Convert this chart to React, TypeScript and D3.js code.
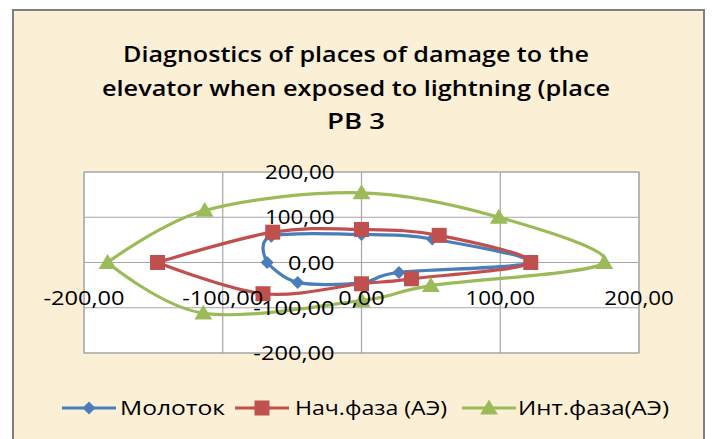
import React, { useEffect, useRef } from "react";
import * as d3 from "d3";

// values (x, y pairs, path starts and ends at the left-most point)
const molotokX = [-68, -65, 0, 51, 122, 27, 0, -46, -68];
const molotokY = [0, 58, 62, 52, 0, -22, -45, -44, 0];
const nachX = [-147, -64, 0, 56, 122, 36, 0, -71, -147];
const nachY = [0, 67, 73, 60, 0, -36, -47, -69, 0];
const intX = [-183, -113, 0, 99, 175, 50, 0, -114, -183];
const intY = [0, 115, 154, 100, 0, -51, -84, -112, 0];

const seriesNames = ["Молоток", "Нач.фаза (АЭ)", "Инт.фаза(АЭ)"];
const xTicks = [-200, -100, 0, 100, 200];
const yTicks = [-200, -100, 0, 100, 200];
const titleLines = [
  "Diagnostics of places of damage to the",
  "elevator when exposed to lightning (place",
  "PB 3",
];

const W = 712;
const H = 439;
const fmt = (v: number) => d3.format(".2f")(v).replace(".", ",").replace("\u2212", "-");

function App() {
  const ref = useRef<SVGSVGElement>(null);

  useEffect(() => {
    if (!ref.current) return;
    const svg = d3.select(ref.current);
    svg.selectAll("*").remove();

    // chart frame
    svg.append("rect").attr("width", W).attr("height", H).attr("fill", "#ffffff");
    svg.append("rect")
      .attr("x", 13).attr("y", 10)
      .attr("width", 691).attr("height", H)
      .attr("fill", "#fbefd6")
      .attr("stroke", "#7f7f7f")
      .attr("stroke-width", 2);

    // title
    const titleWidths = [466, 508, 58];
    const titleY = [62, 96, 129];
    titleLines.forEach((t, i) => {
      svg.append("text")
        .attr("x", 356)
        .attr("y", titleY[i])
        .attr("text-anchor", "middle")
        .attr("font-family", "'Open Sans', sans-serif")
        .attr("font-weight", 600)
        .attr("font-size", 22)
        .attr("textLength", titleWidths[i])
        .attr("lengthAdjust", "spacingAndGlyphs")
        .attr("fill", "#000")
        .text(t);
    });

    // scales
    const x = d3.scaleLinear().domain([-200, 200]).range([84, 639]);
    const y = d3.scaleLinear().domain([-200, 200]).range([353, 172]);

    // plot area
    svg.append("rect")
      .attr("x", x(-200)).attr("y", y(200))
      .attr("width", x(200) - x(-200)).attr("height", y(-200) - y(200))
      .attr("fill", "#ffffff")
      .attr("stroke", "#a6a6a6");

    // grid
    const grid = svg.append("g").attr("stroke", "#a6a6a6").attr("stroke-width", 1.2);
    xTicks.forEach(v => {
      grid.append("line").attr("x1", x(v)).attr("x2", x(v)).attr("y1", y(-200)).attr("y2", y(200));
    });
    yTicks.forEach(v => {
      grid.append("line").attr("y1", y(v)).attr("y2", y(v)).attr("x1", x(-200)).attr("x2", x(200));
    });

    // series
    const colors = ["#4a7ebb", "#c0504d", "#9bbb59"];
    const allX = [molotokX, nachX, intX];
    const allY = [molotokY, nachY, intY];
    const line = d3.line<[number, number]>()
      .x(d => x(d[0]))
      .y(d => y(d[1]))
      .curve(d3.curveCardinal.tension(0));

    const diamond = (s: number) => `M0,${-s}L${s},0L0,${s}L${-s},0Z`;
    const square = (s: number) => `M${-s},${-s}H${s}V${s}H${-s}Z`;
    const triangle = (s: number) => `M0,${-s}L${s * 1.05},${s * 0.75}L${-s * 1.05},${s * 0.75}Z`;
    const markers = [() => diamond(6.5), () => square(7.5), () => triangle(8.5)];

    allX.forEach((xs, i) => {
      const pts: [number, number][] = xs.map((v, j) => [v, allY[i][j]]);
      const g = svg.append("g");
      g.append("path")
        .attr("d", line(pts))
        .attr("fill", "none")
        .attr("stroke", colors[i])
        .attr("stroke-width", 3.2)
        .attr("stroke-linejoin", "round");
      g.selectAll("path.m")
        .data(pts.slice(0, -1))
        .enter()
        .append("path")
        .attr("class", "m")
        .attr("transform", d => `translate(${x(d[0])},${y(d[1])})`)
        .attr("d", markers[i]())
        .attr("fill", colors[i]);
    });

    // axis labels (axes cross at 0)
    const lab = svg.append("g")
      .attr("font-family", "'Open Sans', sans-serif")
      .attr("font-size", 20)
      .attr("fill", "#000");
    yTicks.forEach(v => {
      lab.append("text")
        .attr("x", x(0) - 27)
        .attr("y", y(v))
        .attr("dy", "0.35em")
        .attr("text-anchor", "end")
        .attr("textLength", fmt(v).length * 11.6)
        .attr("lengthAdjust", "spacingAndGlyphs")
        .text(fmt(v));
    });
    xTicks.forEach(v => {
      lab.append("text")
        .attr("x", x(v))
        .attr("y", 305)
        .attr("text-anchor", "middle")
        .attr("textLength", fmt(v).length * 11.6)
        .attr("lengthAdjust", "spacingAndGlyphs")
        .text(fmt(v));
    });

    // legend
    const legLineX = [62, 235, 462];
    const legTextX = [120, 295, 518];
    const legTextW = [105, 152, 151];
    const ly = 408;
    seriesNames.forEach((name, i) => {
      const g = svg.append("g");
      g.append("line")
        .attr("x1", legLineX[i]).attr("x2", legLineX[i] + 54)
        .attr("y1", ly).attr("y2", ly)
        .attr("stroke", colors[i]).attr("stroke-width", 3.2);
      g.append("path")
        .attr("transform", `translate(${legLineX[i] + 27},${ly})`)
        .attr("d", markers[i]())
        .attr("fill", colors[i]);
      g.append("text")
        .attr("x", legTextX[i])
        .attr("y", ly)
        .attr("dy", "0.35em")
        .attr("font-family", "'Open Sans', sans-serif")
        .attr("font-size", 20)
        .attr("textLength", legTextW[i])
        .attr("lengthAdjust", "spacingAndGlyphs")
        .attr("fill", "#000")
        .text(name);
    });
  }, []);

  return (
    <div style={{ position: "absolute", left: 0, top: 0 }}>
      <svg ref={ref} width={W} height={H} style={{ display: "block" }}></svg>
    </div>
  );
}

export default App;
